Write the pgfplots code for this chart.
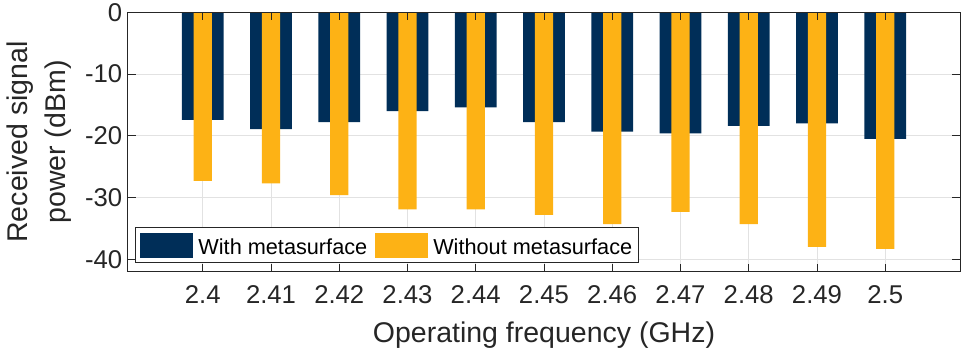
\documentclass[border=0pt]{standalone}
\usepackage{fontspec}
\setmainfont{Liberation Sans}
\usepackage{pgfplots}
\pgfplotsset{compat=1.18}

\definecolor{barblue}{RGB}{0,46,88}
\definecolor{bargold}{RGB}{253,178,21}
\definecolor{axgray}{RGB}{38,38,38}
\definecolor{gridgray}{RGB}{226,226,226}

\pgfplotsset{
  common/.style={
    scale only axis, width=832.6pt, height=259.4pt,
    xmin=-1.1, xmax=11.1, ymin=-42, ymax=0,
    xtick={0,...,10}, ytick={-40,-30,-20,-10,0},
  }
}

\begin{document}
\begin{tikzpicture}
% grid only, so that the bars cover it
\begin{axis}[common, xmajorgrids, ymajorgrids,
  grid style={gridgray, line width=0.8pt},
  axis line style={draw=none}, major tick length=0pt,
  xticklabels={}, yticklabels={}]
\end{axis}

\begin{axis}[common, axis on top,
  axis line style={axgray, line width=0.8pt},
  tick style={axgray, line width=0.8pt}, major tick length=8pt,
  xticklabels={2.4,2.41,2.42,2.43,2.44,2.45,2.46,2.47,2.48,2.49,2.5},
  /pgf/number format/assume math mode=true,
  ticklabel style={font=\fontsize{25.7}{30}\selectfont, text=axgray},
  yticklabel style={xshift=-2pt},
  xticklabel style={yshift=-10pt},
  xlabel={Operating frequency (GHz)},
  ylabel={Received signal\\power (dBm)},
  label style={font=\fontsize{28.5}{38}\selectfont, text=axgray},
  xlabel style={at={(axis description cs:0.5,-0.192)}, anchor=north, inner sep=0pt},
  ylabel style={at={(axis description cs:-0.145,0.5)}, anchor=north, inner sep=0pt, align=center},
  legend columns=2,
  legend image code/.code={\fill[#1] (0pt,-10.3pt) rectangle (53pt,14.7pt);},
  legend style={at={(axis description cs:0.0088,0.0324)}, anchor=south west,
    draw=axgray, line width=0.8pt, fill=white, inner xsep=5pt, inner ysep=5.3pt,
    font=\fontsize{21.7}{26}\selectfont, nodes={inner sep=1pt, text=black},
    /tikz/every odd column/.append style={column sep=4pt},
    /tikz/every even column/.append style={column sep=7pt}},
]
\addplot[ybar, bar width=0.61, bar shift=0pt, fill=barblue, draw=none] coordinates {
  (0,-17.4) (1,-18.9) (2,-17.8) (3,-16.0) (4,-15.4) (5,-17.8)
  (6,-19.3) (7,-19.6) (8,-18.4) (9,-18.0) (10,-20.5)
};
\addlegendentry{With metasurface}
\addplot[ybar, bar width=0.268, bar shift=0pt, fill=bargold, draw=none] coordinates {
  (0,-27.3) (1,-27.7) (2,-29.6) (3,-31.9) (4,-31.9) (5,-32.8)
  (6,-34.3) (7,-32.3) (8,-34.3) (9,-38.0) (10,-38.3)
};
\addlegendentry{Without metasurface}
\end{axis}

\pgfresetboundingbox
\path ([shift={(-127.7pt,-84.3pt)}]current axis.south west)
  rectangle ([shift={(8.7pt,12.3pt)}]current axis.north east);
\end{tikzpicture}
\end{document}
